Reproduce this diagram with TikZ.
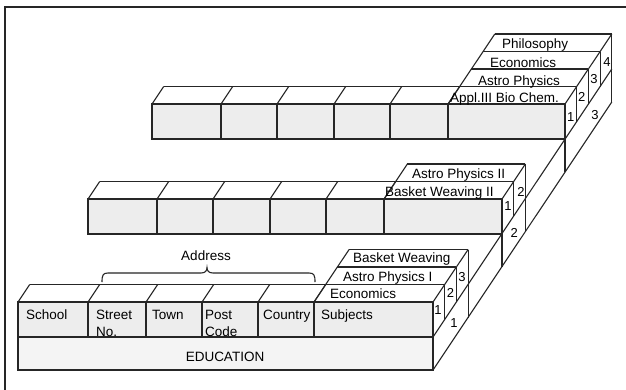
\documentclass[tikz,border=0pt]{standalone}
\usepackage{fontspec}
\setmainfont{Liberation Sans}
\def\pdx{11.7}
\def\pdy{-17.5}
% #1 left x, #2 inner dividers (incl. stack left), #3 stack left x, #4 right x, #5 top y, #6 layers
\newcommand\drawrow[6]{%
  \draw[ln, fill=cellgray] (#1,#5) rectangle (#4,{#5+35});
  \foreach \xx in {#2} \draw[ln] (\xx,#5) -- (\xx,{#5+35});
  \foreach \xx in {#1,#2} \draw[ln] (\xx,#5) -- ++(\pdx,\pdy);
  \draw[ln] ({#1+\pdx},{#5+\pdy}) -- ({#4+\pdx},{#5+\pdy});
  \draw[ln] (#3,#5) -- ++({#6*\pdx},{#6*\pdy});
  \draw[ln] (#4,#5) -- ++({#6*\pdx},{#6*\pdy});
  \foreach \k in {2,...,#6} \draw[ln] ({#3+\k*\pdx},{#5+\k*\pdy}) -- ({#4+\k*\pdx},{#5+\k*\pdy});
  \foreach \k in {1,...,#6} \draw[ln] ({#4+\k*\pdx},{#5+\k*\pdy}) -- ++(0,35);
  \draw[ln] ({#4+#6*\pdx},{#5+#6*\pdy+35}) -- ++(0,33);
  \draw[ln] (#4,{#5+35}) -- ++(0,33);
}
\begin{document}
\begin{tikzpicture}[x=1pt,y=-1pt,
  ln/.style={draw=black!85, line width=1.1pt, line join=miter},
  lbl/.style={inner sep=0pt, anchor=base west, font=\fontsize{13.5}{15}\selectfont},
  num/.style={inner sep=0pt, font=\fontsize{13}{14}\selectfont}]
\definecolor{cellgray}{HTML}{EDEDED}
\definecolor{edugray}{HTML}{F4F4F4}
\useasboundingbox (0,0) rectangle (626,389);
\fill[white] (0,0) rectangle (626,389);
% frame (only left and top edges are inside the picture)
\draw[black!85, line width=1.4pt] (5,395) -- (5,7) -- (632,7);

% EDUCATION bar and its long side
\draw[ln, fill=edugray] (18,337) rectangle (433,370);
\draw[ln] (433,337) -- (611.8,69);
\draw[ln] (433,370) -- (611.8,102);

% rows
\drawrow{18}{88,146,202,258,314}{314}{433}{302}{3}
\drawrow{88}{157,213,270,326,384}{384}{502}{199}{2}
\drawrow{152}{221,277,334,390,448}{448}{565}{104}{4}

% Address brace
\draw[ln] (102,282) .. controls (102,275) and (103,273) .. (108,273) -- (201,273)
  .. controls (205,273) and (207,271) .. (207,267.5)
  .. controls (207,271) and (209,273) .. (213,273) -- (309,273)
  .. controls (314,273) and (315,275) .. (315,282);
\node[lbl, anchor=base] (address) at (206,260) {Address};

% bottom row labels
\node[lbl] (school) at (26,319) {School};
\node[lbl] (street) at (96,319) {Street};
\node[lbl] (no) at (96,336) {No.};
\node[lbl] (town) at (152,319) {Town};
\node[lbl] (post) at (205,319) {Post};
\node[lbl] (code) at (205,336) {Code};
\node[lbl] (country) at (263,319) {Country};
\node[lbl] (subjects) at (321,319) {Subjects};
\node[lbl, anchor=base] (education) at (225,361) {EDUCATION};
\node[lbl] (econ1) at (330,298) {Economics};
\node[lbl] (astro1) at (343,281) {Astro Physics I};
\node[lbl] (basket1) at (353,262) {Basket Weaving};
\node[num] (b1) at (438,310.5) {1};
\node[num] (b2) at (450.5,293) {2};
\node[num] (b3) at (462,277) {3};
\node[num] (e1) at (454,323) {1};

% middle row labels
\node[lbl] (basket2) at (385,196.5) {Basket Weaving II};
\node[lbl] (astro2) at (412,178) {Astro Physics II};
\node[num] (m1) at (508,206) {1};
\node[num] (m2) at (521,191.5) {2};
\node[num] (e2) at (514.3,232.7) {2};

% top row labels
\node[lbl] (appl) at (450,102.5) {Appl.III Bio Chem.};
\node[lbl] (astro3) at (478,85) {Astro Physics};
\node[lbl] (econ3) at (490,67.5) {Economics};
\node[lbl] (philo) at (502,48) {Philosophy};
\node[num] (t1) at (570.7,116.7) {1};
\node[num] (t2) at (581.7,97.3) {2};
\node[num] (t3) at (594,79.3) {3};
\node[num] (t4) at (607,61.7) {4};
\node[num] (e3) at (595,115) {3};
\end{tikzpicture}
\end{document}
